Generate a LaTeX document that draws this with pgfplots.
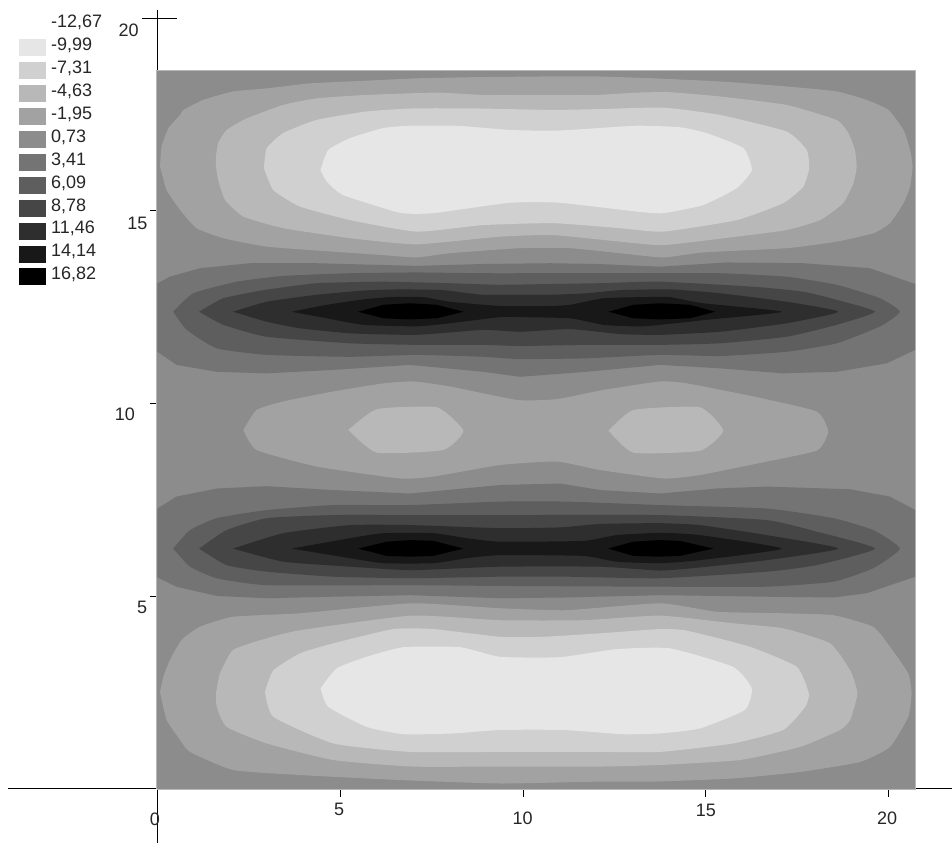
\documentclass[border=0pt]{standalone}
\usepackage{pgfplots}
\pgfplotsset{compat=1.18}
\usepackage{fontspec}
\setmainfont{Liberation Sans}
\definecolor{c1}{HTML}{E6E6E6}
\definecolor{c2}{HTML}{D0D0D0}
\definecolor{c3}{HTML}{B8B8B8}
\definecolor{c4}{HTML}{A2A2A2}
\definecolor{c5}{HTML}{8C8C8C}
\definecolor{c6}{HTML}{747474}
\definecolor{c7}{HTML}{5E5E5E}
\definecolor{c8}{HTML}{464646}
\definecolor{c9}{HTML}{2E2E2E}
\definecolor{c10}{HTML}{181818}
\definecolor{c11}{HTML}{000000}
\newcommand{\lab}{\fontsize{18}{20}\selectfont}
\begin{document}
\begin{tikzpicture}
\useasboundingbox (0,0) rectangle (952pt,843pt);
\begin{axis}[at={(0,0)},anchor=south west,scale only axis,width=952pt,height=843pt,
  xmin=-4.309,xmax=21.737,ymin=-1.415,ymax=20.475,hide axis,clip=false,
  every axis plot/.append style={forget plot},
  lv/.style={fill=#1,draw=none,mark=none,smooth,tension=0.3},
  ln/.style={black,line width=0.9pt,mark=none}]
% axes
\addplot[ln] coordinates {(-4.09,0) (21.737,0)};
\addplot[ln] coordinates {(0,20.21) (0,-1.415)};
\addplot[ln] coordinates {(-0.42,20) (0.53,20)};
\addplot[ln] coordinates {(-0.2,15) (0,15)};
\addplot[ln] coordinates {(-0.2,10) (0,10)};
\addplot[ln] coordinates {(-0.2,5) (0,5)};
\addplot[ln] coordinates {(5,0) (5,-0.22)};
\addplot[ln] coordinates {(10,0) (10,-0.22)};
\addplot[ln] coordinates {(15,0) (15,-0.22)};
\addplot[ln] coordinates {(20,0) (20,-0.22)};
% base
\addplot[fill=c5,draw=black!28,line width=0.7pt,mark=none] coordinates {(-0.02,-0.02) (20.73,-0.02) (20.73,18.64) (-0.02,18.64) (-0.02,-0.02)};
% level -1.95
\addplot[lv=c4] coordinates {(.07,16.15)(.11,16.67)(.30,17.15)(.62,17.49)(.71,17.62)(1.25,17.88)(2.07,18.10)(2.99,18.18)(4.17,18.31)(5.72,18.38)(7.09,18.44)(8.64,18.47)(10.74,18.49)(12.02,18.49)(13.57,18.44)(15.39,18.36)(17.21,18.23)(18.58,18.10)(19.40,17.88)(20.0,17.62)(20.41,17.10)(20.59,16.58)(20.66,16.15)(20.59,15.63)(20.41,15.20)(20.04,14.68)(19.59,14.42)(18.58,14.20)(17.21,14.03)(14.93,13.92)(13.84,13.79)(12.65,13.90)(11.29,14.03)(9.92,14.03)(8.0,13.90)(7.09,13.79)(6.18,13.85)(4.81,13.94)(2.99,14.07)(1.80,14.29)(1.07,14.55)(.62,15.02)(.25,15.54)(.07,16.15)};
\addplot[lv=c4] coordinates {(.07,2.51)(.16,2.90)(.34,3.34)(.66,3.86)(1.16,4.20)(2.07,4.46)(3.90,4.55)(6.95,4.81)(9.37,4.68)(11.19,4.63)(13.75,4.81)(15.30,4.59)(17.12,4.55)(18.49,4.50)(19.58,4.20)(20.04,3.68)(20.54,2.99)(20.63,2.47)(20.54,1.86)(20.04,1.08)(19.22,.69)(17.58,.43)(15.75,.26)(13.57,.18)(12.11,.18)(9.37,.13)(6.63,.22)(3.90,.35)(2.07,.48)(.89,.95)(.62,1.26)(.25,1.78)(.07,2.51)};
\addplot[lv=c4] coordinates {(2.35,9.31)(2.71,9.83)(3.44,10.05)(4.81,10.31)(6.18,10.52)(7.0,10.57)(8.0,10.44)(9.83,10.09)(10.92,10.11)(12.2,10.35)(13.75,10.57)(14.48,10.52)(16.3,10.18)(18.03,9.79)(18.35,9.27)(18.05,8.78)(16.67,8.49)(14.84,8.14)(13.84,8.05)(12.11,8.27)(10.92,8.49)(9.37,8.40)(7.55,8.10)(6.63,8.05)(4.36,8.36)(2.71,8.79)(2.35,9.31)};
% level -4.63
\addplot[lv=c3] coordinates {(1.60,16.15)(1.60,16.41)(1.66,16.76)(1.89,17.10)(2.44,17.40)(3.44,17.75)(4.35,17.92)(5.72,18.01)(7.64,18.07)(8.91,18.01)(10.74,18.01)(12.02,18.01)(13.11,18.07)(14.02,18.08)(15.39,17.97)(17.21,17.75)(18.58,17.36)(18.90,17.02)(19.08,16.58)(19.13,16.15)(19.04,15.72)(18.76,15.20)(18.13,14.76)(17.21,14.50)(15.85,14.33)(13.84,14.11)(12.65,14.20)(10.83,14.37)(9.37,14.33)(7.09,14.13)(5.27,14.29)(3.44,14.55)(2.35,14.85)(1.85,15.28)(1.66,15.80)(1.60,16.15)};
\addplot[lv=c3] coordinates {(1.60,2.47)(1.71,2.99)(2.07,3.60)(2.99,3.90)(3.90,4.11)(6.95,4.49)(9.37,4.37)(11.65,4.37)(13.75,4.49)(15.75,4.29)(17.12,4.16)(18.40,3.77)(18.95,3.07)(19.15,2.47)(18.95,1.78)(18.67,1.52)(17.58,1.08)(15.94,.74)(13.75,.61)(12.11,.57)(9.37,.57)(6.95,.57)(4.81,.74)(2.99,1.17)(1.89,1.60)(1.62,2.12)(1.60,2.47)};
\addplot[lv=c3] coordinates {(5.22,9.31)(6.0,9.85)(7.64,9.90)(8.37,9.29)(7.82,8.79)(6.0,8.72)(5.22,9.31)};
\addplot[lv=c3] coordinates {(12.34,9.29)(13.02,9.83)(14.84,9.90)(15.48,9.29)(14.84,8.77)(13.02,8.72)(12.34,9.29)};
% level -7.31
\addplot[lv=c2] coordinates {(2.91,16.11)(2.99,16.63)(3.44,17.02)(4.35,17.36)(5.72,17.58)(7.0,17.66)(8.64,17.66)(10.74,17.62)(12.02,17.64)(13.84,17.68)(15.39,17.49)(17.21,17.06)(17.76,16.58)(17.83,16.11)(17.67,15.63)(17.12,15.20)(15.85,14.76)(13.84,14.46)(12.65,14.55)(10.83,14.68)(8.91,14.63)(7.09,14.46)(5.27,14.76)(3.90,15.11)(3.17,15.54)(2.91,16.11)};
\addplot[lv=c2] coordinates {(2.94,2.51)(3.17,3.07)(3.90,3.51)(4.81,3.77)(6.45,4.14)(7.55,4.14)(9.37,3.94)(10.56,3.94)(12.11,4.03)(13.75,4.14)(14.48,4.10)(16.21,3.68)(17.49,3.16)(17.82,2.47)(17.72,2.12)(17.12,1.52)(15.75,1.17)(13.75,.95)(12.11,.95)(9.37,.95)(6.91,.95)(4.81,1.17)(3.17,1.86)(2.94,2.51)};
% level -9.99
\addplot[lv=c1] coordinates {(4.46,16.06)(4.67,16.58)(5.27,16.89)(6.18,17.15)(6.91,17.21)(8.18,17.21)(9.64,17.10)(10.74,17.08)(11.29,17.10)(13.11,17.21)(14.30,17.17)(15.02,17.02)(16.03,16.63)(16.26,16.06)(15.85,15.59)(14.93,15.15)(13.84,14.94)(13.11,14.98)(11.01,15.21)(9.64,15.21)(7.55,14.94)(6.63,14.95)(5.08,15.41)(4.63,15.76)(4.46,16.06)};
\addplot[lv=c1] coordinates {(4.46,2.60)(4.90,3.12)(5.72,3.42)(6.73,3.67)(8.28,3.67)(9.37,3.42)(11.01,3.41)(12.56,3.62)(14.02,3.64)(15.75,3.16)(16.26,2.60)(16.07,2.04)(14.84,1.56)(13.75,1.43)(12.74,1.41)(11.10,1.52)(9.37,1.52)(8.09,1.43)(6.73,1.41)(5.72,1.60)(4.67,2.12)(4.46,2.60)};
% level 3.41
\addplot[fill=c6,draw=none,mark=none] coordinates {(0,13.12)(.34,13.29)(1.16,13.51)(2.53,13.64)(4.35,13.64)(7.09,13.57)(8.91,13.62)(10.74,13.64)(12.02,13.62)(13.75,13.55)(15.57,13.66)(17.67,13.64)(19.49,13.51)(20.73,13.10)(20.73,11.39)(19.95,11.04)(18.58,10.82)(17.12,10.78)(15.39,10.91)(13.75,11.0)(11.74,10.82)(9.92,10.69)(8.91,10.82)(6.91,11.0)(4.81,10.87)(2.99,10.78)(1.62,10.82)(.52,11.0)(0,11.34)};
\addplot[fill=c6,draw=none,mark=none] coordinates {(0,7.27)(.52,7.58)(1.62,7.79)(2.99,7.85)(4.81,7.75)(6.91,7.66)(9.37,7.88)(11.01,7.92)(12.11,7.75)(13.75,7.66)(15.30,7.79)(16.67,7.84)(18.95,7.77)(20.04,7.58)(20.73,7.23)(20.73,5.50)(19.40,5.07)(18.49,4.96)(16.67,4.98)(15.30,5.0)(13.75,5.02)(11.19,4.96)(9.37,4.94)(6.91,5.02)(4.81,4.98)(2.99,4.94)(1.62,5.0)(.52,5.24)(0,5.48)};
% level 6.09
\addplot[lv=c7] coordinates {(.43,12.38)(.98,12.86)(2.17,13.16)(3.44,13.31)(5.27,13.38)(7.09,13.40)(8.91,13.38)(10.74,13.38)(13.57,13.38)(15.39,13.38)(17.21,13.29)(18.58,13.08)(19.77,12.73)(20.31,12.38)(19.77,12.0)(18.58,11.56)(17.21,11.34)(15.39,11.23)(13.75,11.26)(11.74,11.17)(9.92,11.15)(8.91,11.21)(7.09,11.26)(5.27,11.21)(2.99,11.26)(1.62,11.43)(.80,11.91)(.43,12.38)};
\addplot[lv=c7] coordinates {(.43,6.23)(.89,6.71)(1.62,7.02)(2.99,7.23)(4.81,7.36)(6.91,7.36)(9.37,7.45)(11.19,7.45)(13.75,7.36)(16.67,7.27)(18.49,7.02)(19.58,6.71)(20.31,6.23)(19.58,5.72)(18.49,5.37)(16.67,5.24)(13.75,5.24)(9.37,5.26)(6.91,5.28)(2.99,5.28)(1.62,5.46)(.89,5.76)(.43,6.23)};
% level 8.78
\addplot[lv=c8] coordinates {(1.14,12.38)(1.80,12.73)(2.90,12.94)(4.35,13.12)(6.18,13.16)(8.0,13.12)(9.37,13.08)(10.74,13.10)(12.02,13.12)(13.75,13.16)(16.30,13.03)(17.67,12.90)(18.58,12.69)(19.63,12.38)(18.58,12.04)(17.21,11.73)(15.39,11.56)(13.75,11.52)(11.74,11.52)(9.92,11.49)(8.91,11.52)(7.09,11.52)(5.27,11.56)(2.99,11.73)(1.80,12.04)(1.14,12.38)};
\addplot[lv=c8] coordinates {(1.14,6.23)(1.89,6.71)(2.99,7.02)(4.81,7.10)(6.95,7.10)(9.37,7.10)(13.75,7.10)(16.67,6.97)(18.03,6.67)(19.63,6.23)(18.03,5.80)(16.67,5.63)(13.75,5.46)(11.19,5.50)(9.37,5.50)(6.95,5.46)(4.81,5.50)(2.99,5.63)(1.89,5.80)(1.14,6.23)};
% level 11.46
\addplot[lv=c9] coordinates {(2.07,12.38)(2.99,12.64)(4.35,12.82)(5.63,12.93)(6.63,12.96)(7.82,12.94)(8.91,12.82)(10.74,12.82)(11.74,12.86)(12.65,12.94)(14.02,12.96)(15.39,12.86)(17.21,12.64)(18.63,12.38)(17.21,12.08)(15.39,11.86)(13.75,11.78)(12.65,11.80)(11.29,11.93)(9.92,11.86)(8.91,11.91)(7.09,11.78)(5.27,11.82)(3.90,11.95)(2.99,12.12)(2.07,12.38)};
\addplot[lv=c9] coordinates {(2.07,6.23)(3.44,6.63)(5.27,6.84)(6.95,6.84)(9.37,6.76)(11.01,6.78)(12.11,6.87)(13.75,6.89)(14.84,6.84)(16.67,6.58)(18.63,6.23)(16.67,5.93)(14.84,5.74)(13.75,5.66)(12.11,5.76)(9.37,5.76)(6.95,5.67)(5.27,5.76)(3.44,5.89)(2.07,6.23)};
% level 14.14
\addplot[lv=c10] coordinates {(3.67,12.38)(4.63,12.56)(5.63,12.70)(6.36,12.76)(7.27,12.76)(8.0,12.64)(9.37,12.53)(10.74,12.53)(11.29,12.56)(12.2,12.73)(13.29,12.76)(14.02,12.76)(14.93,12.60)(17.08,12.38)(15.02,12.17)(13.29,12.0)(12.2,12.04)(11.29,12.21)(9.92,12.24)(9.37,12.24)(8.0,12.08)(7.09,12.0)(5.63,12.04)(4.63,12.21)(3.67,12.38)};
\addplot[lv=c10] coordinates {(3.67,6.23)(5.27,6.50)(6.18,6.63)(7.55,6.63)(8.46,6.50)(9.37,6.41)(11.65,6.43)(12.56,6.58)(13.75,6.64)(14.84,6.58)(17.08,6.23)(14.84,5.93)(13.75,5.85)(12.56,5.89)(11.65,6.04)(9.37,6.06)(8.46,5.98)(7.55,5.85)(6.18,5.85)(5.27,5.98)(3.67,6.23)};
% level 16.82
\addplot[fill=c11,draw=none,mark=none] coordinates {(5.49,12.38)(6.18,12.56)(6.91,12.60)(7.64,12.56)(8.37,12.38)(7.64,12.21)(6.91,12.18)(6.18,12.21)};
\addplot[fill=c11,draw=none,mark=none] coordinates {(12.34,12.38)(13.02,12.56)(13.75,12.60)(14.57,12.56)(15.25,12.38)(14.57,12.21)(13.75,12.18)(13.02,12.21)};
\addplot[fill=c11,draw=none,mark=none] coordinates {(5.49,6.23)(6.27,6.41)(6.95,6.45)(7.55,6.43)(8.37,6.23)(7.55,6.04)(6.95,6.02)(6.27,6.04)};
\addplot[fill=c11,draw=none,mark=none] coordinates {(12.33,6.23)(13.02,6.41)(13.75,6.45)(14.29,6.43)(15.21,6.23)(14.29,6.04)(13.75,6.02)(13.02,6.04)};
% tick labels
\node[font=\lab,text=black!85] at (axis cs:4.97,-.53) {5};
\node[font=\lab,text=black!85] at (axis cs:-.07,-.79) {0};
\node[font=\lab,text=black!85] at (axis cs:9.99,-.77) {10};
\node[font=\lab,text=black!85] at (axis cs:15.0,-.56) {15};
\node[font=\lab,text=black!85] at (axis cs:19.96,-.77) {20};
\node[font=\lab,text=black!85] at (axis cs:-.79,19.69) {20};
\node[font=\lab,text=black!85] at (axis cs:-.55,14.68) {15};
\node[font=\lab,text=black!85] at (axis cs:-.89,9.72) {10};
\node[font=\lab,text=black!85] at (axis cs:-.42,4.71) {5};
\end{axis}
% legend
\foreach \c [count=\i from 0] in {c1,c2,c3,c4,c5,c6,c7,c8,c9,c10,c11}
  \fill[\c] (19pt,{(843-39-22.95*\i)*1pt}) rectangle (45.5pt,{(843-56-22.95*\i)*1pt});
\foreach \t [count=\i from 0] in {{-12,67},{-9,99},{-7,31},{-4,63},{-1,95},{0,73},{3,41},{6,09},{8,78},{11,46},{14,14},{16,82}}
  \node[font=\lab,text=black!85,anchor=west,inner sep=0pt] at (51pt,{(843-22.7-22.9*\i)*1pt}) {\t};
\end{tikzpicture}
\end{document}
